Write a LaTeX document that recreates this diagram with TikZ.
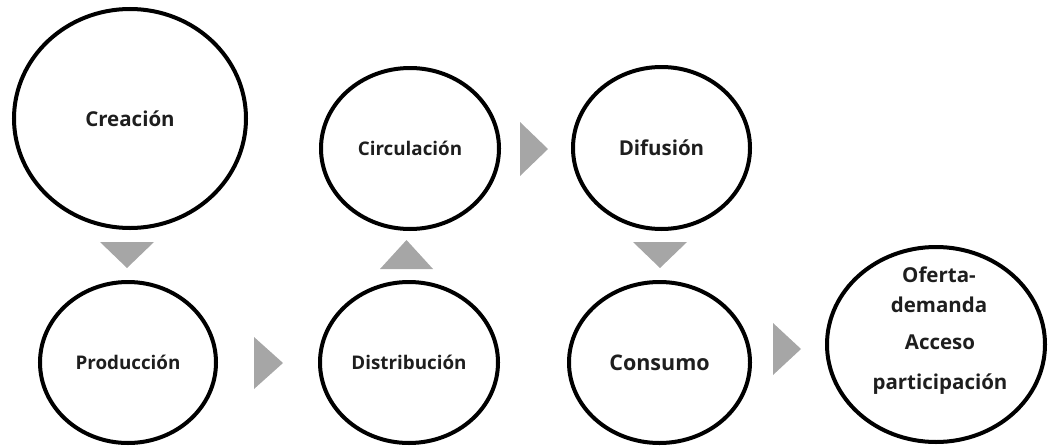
\documentclass[tikz,border=0pt]{standalone}
\usepackage{fontspec}
\setmainfont{Open Sans}
\usetikzlibrary{shapes.geometric}
\definecolor{trigray}{HTML}{A6A6A6}
\definecolor{txt}{HTML}{1E1E1E}
\tikzset{
  stage/.style={ellipse, draw=black, line width=4pt, inner sep=0pt, align=center, text=txt, font=\bfseries\fontsize{20.5}{24}\selectfont},
  small/.style={font=\bfseries\fontsize{18.8}{22}\selectfont},
  tri/.style={fill=trigray, draw=none}
}
\begin{document}
\begin{tikzpicture}[x=1pt,y=-1pt]
\useasboundingbox (0,0) rectangle (1049,447);
\node[stage, minimum width=232pt, minimum height=219pt] (crea) at (130,118.5) {Creación};
\node[stage, small, minimum width=176pt, minimum height=161pt] (prod) at (128,362.5) {Producción};
\node[stage, small, minimum width=178pt, minimum height=161pt] (dist) at (409,362.5) {Distribución};
\node[stage, small, minimum width=178pt, minimum height=161pt] (circ) at (410,148.5) {Circulación};
\node[stage, minimum width=177pt, minimum height=162pt] (difu) at (661.5,148) {Difusión};
\node[stage, font=\bfseries\fontsize{21.5}{24}\selectfont, minimum width=181pt, minimum height=161pt] (cons) at (659.5,362.5) {Consumo};
\node[stage, minimum width=218pt, minimum height=195pt] (ofer) at (936,344.5) {};
\node[font=\bfseries\fontsize{20.5}{30}\selectfont, text=txt, align=center] (oftxt) at (939,290) {Oferta-\\demanda};
\node[font=\bfseries\fontsize{20.5}{40}\selectfont, text=txt, align=center] (actxt) at (940,365) {Acceso\\participación};
% connectors (chevrons)
\fill[tri] (100,242) -- (154,242) -- (127,268) -- cycle;
\fill[tri] (254,337) -- (283,363) -- (254,389) -- cycle;
\fill[tri] (380,269) -- (433,269) -- (406.5,240) -- cycle;
\fill[tri] (520,122) -- (548,149) -- (520,176) -- cycle;
\fill[tri] (633,242) -- (687,242) -- (660,268) -- cycle;
\fill[tri] (773,323) -- (801,349) -- (773,375) -- cycle;
\end{tikzpicture}
\end{document}
